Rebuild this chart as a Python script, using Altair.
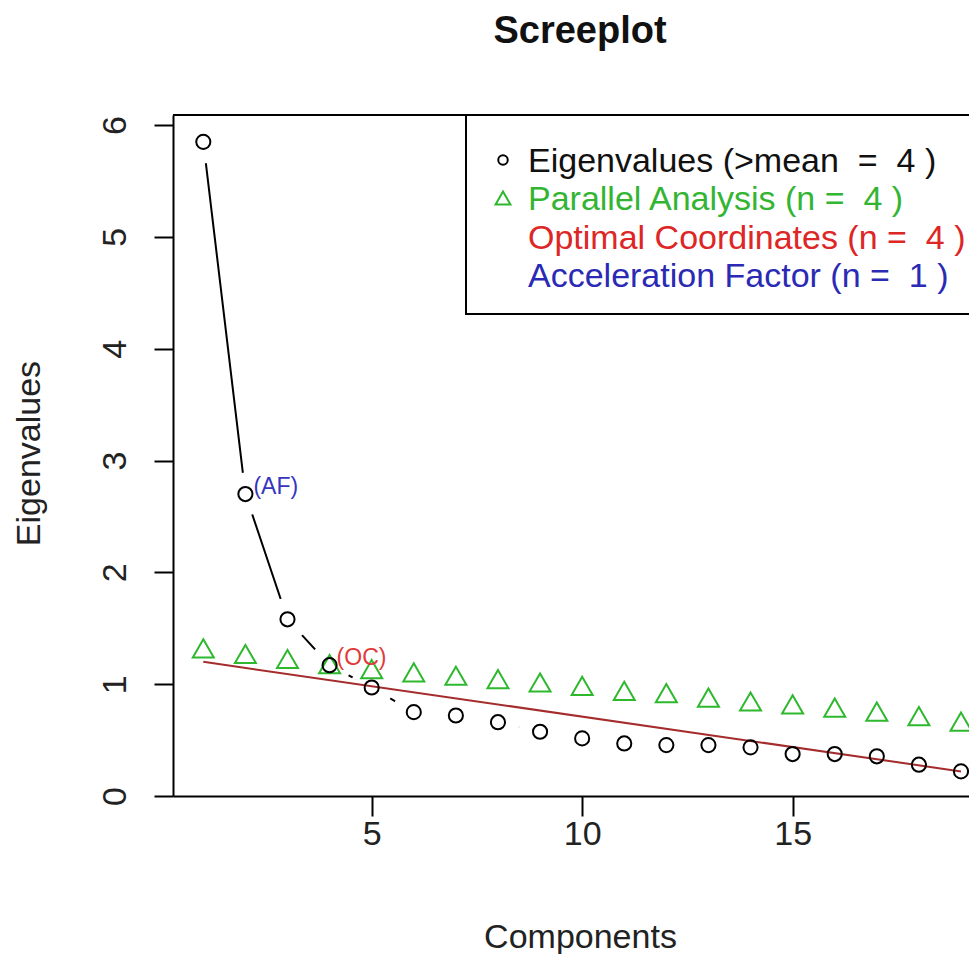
import altair as alt
import pandas as pd

# ---- data ----
components = list(range(1, 20))
eigenvalues = [5.85, 2.70, 1.58, 1.17, 0.97, 0.75, 0.72, 0.66, 0.575, 0.515,
               0.47, 0.455, 0.455, 0.435, 0.375, 0.375, 0.355, 0.28, 0.22]
parallel = [1.32, 1.27, 1.225, 1.18, 1.135, 1.105, 1.075, 1.045, 1.015, 0.985,
            0.94, 0.92, 0.88, 0.845, 0.82, 0.79, 0.755, 0.715, 0.665]
oc_x = [1, 19]
oc_y = [1.20, 0.22]
af_component = 2
oc_component = 4
x_ticks = [5, 10, 15]
y_ticks = [0, 1, 2, 3, 4, 5, 6]
NB = "\u00a0"
legend_labels = [f"Eigenvalues (>mean {NB}= {NB}4 )",
                 f"Parallel Analysis (n = {NB}4 )",
                 f"Optimal Coordinates (n = {NB}4 )",
                 f"Acceleration Factor (n = {NB}1 )"]
legend_colors = ["#111111", "#33b533", "#dd2626", "#2a2ab4"]
title_text = "Screeplot"

FONT = "Liberation Sans"
W, H = 796, 681
XDOM = [0.28, 19.19]
YDOM = [0, 6.09]

df = pd.DataFrame({"Components": components, "Eigenvalues": eigenvalues,
                   "Parallel": parallel})
oc_df = pd.DataFrame({"Components": oc_x, "Eigenvalues": oc_y})
par_df = pd.DataFrame({"Components": components, "Eigenvalues": parallel})
af_df = pd.DataFrame({"Components": [af_component],
                      "Eigenvalues": [eigenvalues[af_component - 1]], "t": ["(AF)"]})
ocl_df = pd.DataFrame({"Components": [oc_component],
                       "Eigenvalues": [eigenvalues[oc_component - 1]], "t": ["(OC)"]})

xs = alt.Scale(domain=XDOM, nice=False, zero=False)
ys = alt.Scale(domain=YDOM, nice=False, zero=False)

x_axis = alt.Axis(values=x_ticks, grid=False, domainColor="black", domainWidth=2,
                  tickColor="black", tickWidth=2, tickSize=20, labelFont=FONT,
                  labelFontSize=34, labelColor="#222222", labelPadding=1,
                  labelBaseline="top", title="Components", titleFont=FONT,
                  titleFontSize=34, titleFontWeight="normal", titleColor="#222222",
                  titleX=407, titleY=151, titleBaseline="alphabetic",
                  titleAlign="center")
y_axis = alt.Axis(values=y_ticks, grid=False, domainColor="black", domainWidth=2,
                  tickColor="black", tickWidth=2, tickSize=19, labelFont=FONT,
                  labelFontSize=34, labelColor="#222222", labelAngle=270,
                  labelAlign="center", labelBaseline="alphabetic", labelPadding=29,
                  title="Eigenvalues", titleFont=FONT, titleFontSize=34,
                  titleFontWeight="normal", titleColor="#222222", titleAngle=270,
                  titleX=-134, titleY=338, titleBaseline="alphabetic",
                  titleAlign="center")

X = alt.X("Components:Q", scale=xs, axis=x_axis)
Y = alt.Y("Eigenvalues:Q", scale=ys, axis=y_axis)

eig_line = alt.Chart(df).mark_line(color="black", strokeWidth=2).encode(x=X, y=Y)
halo = alt.Chart(df).mark_point(shape="circle", filled=True, color="white",
                                opacity=1, size=1870, clip=True).encode(x=X, y=Y)
oc_line = alt.Chart(oc_df).mark_line(color="#a42c2c", strokeWidth=2).encode(x=X, y=Y)
tri = alt.Chart(par_df).mark_point(shape="triangle-up", filled=False,
                                   color="#2eb82e", strokeWidth=2, size=440,
                                   opacity=1, clip=True).encode(x=X, y=Y)
circ = alt.Chart(df).mark_point(shape="circle", filled=False, color="black",
                                strokeWidth=2, size=200, opacity=1).encode(x=X, y=Y)
af_txt = alt.Chart(af_df).mark_text(align="left", baseline="alphabetic", dx=8,
                                    font=FONT, fontSize=23, color="#3535c0").encode(
    x=X, y=Y, text="t:N")
oc_txt = alt.Chart(ocl_df).mark_text(align="left", baseline="alphabetic", dx=7,
                                     font=FONT, fontSize=23, color="#e03a3a").encode(
    x=X, y=Y, text="t:N")

top_rule = alt.Chart(df).mark_rule(color="black", strokeWidth=2).encode(
    x=alt.value(0), x2=alt.value(W), y=alt.value(0))

leg_box = alt.Chart(df).mark_rect(fill="white", stroke="black", strokeWidth=2,
                                  clip=True).encode(
    x=alt.value(293), x2=alt.value(W + 40), y=alt.value(0), y2=alt.value(199))

title_mark = alt.Chart(pd.DataFrame({"t": [title_text]})).mark_text(
    align="center", baseline="alphabetic", font=FONT, fontSize=38,
    fontWeight="bold", color="#111111").encode(
    x=alt.value(407), y=alt.value(-72), text="t:N")

row_baselines = [57, 95, 134, 172]
leg_layers = []
for lab, col, yb in zip(legend_labels, legend_colors, row_baselines):
    ldf = pd.DataFrame({"label": [lab]})
    leg_layers.append(
        alt.Chart(ldf).mark_text(align="left", baseline="alphabetic", font=FONT,
                                 fontSize=34, color=col, clip=True).encode(
            x=alt.value(355), y=alt.value(yb), text="label:N"))
sym_df = pd.DataFrame({"label": legend_labels[:2]})
leg_layers.append(alt.Chart(sym_df.iloc[[0]]).mark_point(
    shape="circle", filled=False, color="black", strokeWidth=2, size=90,
    opacity=1).encode(x=alt.value(330), y=alt.value(row_baselines[0] - 12)))
leg_layers.append(alt.Chart(sym_df.iloc[[1]]).mark_point(
    shape="triangle-up", filled=False, color="#2eb82e", strokeWidth=2, size=220,
    opacity=1).encode(x=alt.value(330), y=alt.value(row_baselines[1] - 12)))

chart = alt.layer(
    leg_box, eig_line, halo, oc_line, tri, circ, af_txt, oc_txt, top_rule,
    title_mark, *leg_layers
).properties(
    width=W, height=H,
    padding={"left": 165, "top": 107, "right": 0, "bottom": 158},
    autosize=alt.AutoSizeParams(type="none"),
).configure_view(stroke=None)

chart.save("out.html", embed_options={"renderer": "svg", "actions": False})
